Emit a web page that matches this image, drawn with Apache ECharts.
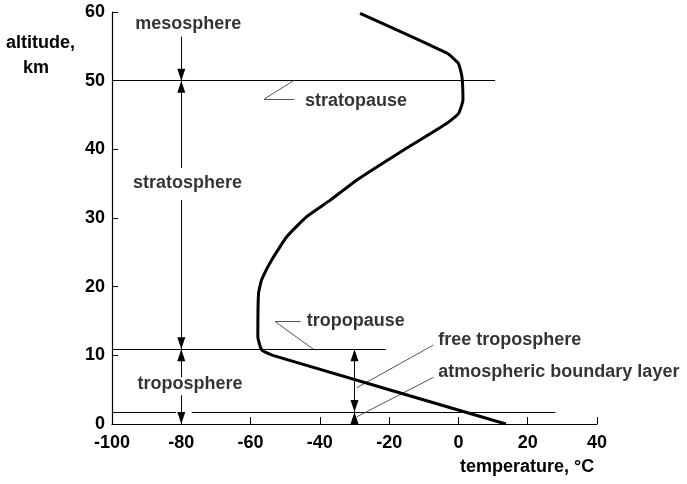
<!DOCTYPE html>
<html>
<head>
<meta charset="utf-8">
<script src="https://cdn.jsdelivr.net/npm/echarts@6/dist/echarts.min.js"></script>
<style>
html, body { margin: 0; padding: 0; background: #fff; }
#main { width: 687px; height: 484px; }
</style>
</head>
<body>
<div id="main"></div>
<script>
// temperature profile of the atmosphere (degC against km)
const profileTemp = [13.7, -53.6, -56.8, -57.9, -57.7, -56.8, -53.9, -49.5, -43.8, -37, -29.4, -15.8, -3.3, 0, 1.3, 1, 0, -3.3, -28.4]
const profileAlt = [0, 10, 10.8, 12.7, 19, 21, 23.9, 27.3, 30.2, 32.6, 35.5, 39.9, 43.8, 45.2, 47.2, 50.6, 52.5, 54, 59.8]

// layer boundaries: [tempFrom, alt, tempTo]
const boundaries = [[-100, 50, 10.6], [-100, 10.9, -21], [-100, 1.75, -81.5], [-77, 1.75, 28]]

// arrows: [temp, altFrom, altTo, headAtFrom, headAtTo]
const arrows = [
    [-80, 56.4, 50, 0, 1],
    [-80, 50, 37.3, 1, 0],
    [-80, 32.6, 10.9, 0, 1],
    [-80, 10.9, 6.8, 1, 0],
    [-80, 4.2, 0, 0, 1],
    [-30, 10.9, 1.75, 1, 1],
    [-30, 0, 1.75, 0, 1]
]

// pointer lines to the notes
const leaders = [
    [[-56.1, 47.3], [-47.4, 47.3]], [[-56.1, 47.3], [-47.6, 50]],
    [[-52.9, 14.9], [-45.5, 14.9]], [[-52.9, 14.9], [-41.9, 10.9]],
    [[-29.3, 5.3], [-7.2, 11.5]],
    [[-29.3, 1.06], [-7.2, 6.8]]
]

const layerNames = ['mesosphere', 'stratosphere', 'troposphere']
const layerPos = [[-78, 58.3], [-78.2, 35.05], [-77.5, 5.78]]
const noteNames = ['stratopause', 'tropopause', 'free troposphere', 'atmospheric boundary layer']
const notePos = [[-44.3, 47.1], [-43.8, 15.0], [-5.8, 12.2], [-5.8, 7.5]]

const font = "'Liberation Sans', Arial, sans-serif"
const txt = { color: '#000', fontFamily: font, fontWeight: 'bold', fontSize: 18 }

const myChart = echarts.init(document.getElementById('main'))

const head = { symbol: 'triangle', symbolSize: [8, 12], symbolOffset: [0, 6] }
const arrowData = arrows.map(a => [
    Object.assign({ coord: [a[0], a[1]] }, a[3] ? head : { symbol: 'none' }),
    Object.assign({ coord: [a[0], a[2]] }, a[4] ? head : { symbol: 'none' })
])

const option = {
    animation: false,
    grid: { left: 112, right: 90, top: 12, bottom: 60 },
    xAxis: {
        type: 'value',
        min: -100,
        max: 40,
        interval: 20,
        splitLine: { show: false },
        axisLine: { lineStyle: { color: '#000', width: 1.2 } },
        axisTick: { inside: true, length: 7, lineStyle: { color: '#000' } },
        axisLabel: Object.assign({ margin: 10 }, txt)
    },
    yAxis: {
        type: 'value',
        min: 0,
        max: 60,
        interval: 10,
        splitLine: { show: false },
        axisLine: { show: true, onZero: false, lineStyle: { color: '#000', width: 1.2 } },
        axisTick: { show: true, inside: true, length: 6, lineStyle: { color: '#000' } },
        axisLabel: Object.assign({ margin: 7 }, txt)
    },
    graphic: [
        { type: 'text', left: 6, top: 34, style: { text: 'altitude,', font: 'bold 18px ' + font, fill: '#000' } },
        { type: 'text', left: 23, top: 59, style: { text: 'km', font: 'bold 18px ' + font, fill: '#000' } },
        { type: 'text', left: 460, top: 458, style: { text: 'temperature, °C', font: 'bold 18px ' + font, fill: '#000' } }
    ],
    series: [
        {
            name: 'temperature',
            type: 'line',
            data: profileTemp.map((t, i) => [t, profileAlt[i]]),
            smooth: 0.15,
            showSymbol: false,
            lineStyle: { color: '#000', width: 3 },
            z: 5
        },
        {
            name: 'boundaries',
            type: 'line',
            data: [],
            markLine: {
                silent: true,
                symbol: ['none', 'none'],
                label: { show: false },
                lineStyle: { color: '#000', width: 1, type: 'solid' },
                data: boundaries.map(b => [{ coord: [b[0], b[1]] }, { coord: [b[2], b[1]] }])
            }
        },
        {
            name: 'arrows',
            type: 'line',
            data: [],
            markLine: {
                silent: true,
                symbol: ['none', 'none'],
                label: { show: false },
                lineStyle: { color: '#000', width: 1, type: 'solid' },
                itemStyle: { color: '#000' },
                data: arrowData
            }
        },
        {
            name: 'leaders',
            type: 'line',
            data: [],
            markLine: {
                silent: true,
                symbol: ['none', 'none'],
                label: { show: false },
                lineStyle: { color: '#555', width: 1, type: 'solid' },
                data: leaders.map(l => [{ coord: l[0] }, { coord: l[1] }])
            }
        },
        {
            name: 'layers',
            type: 'scatter',
            symbolSize: 0,
            silent: true,
            label: Object.assign({ show: true, position: 'inside', textBorderWidth: 0, formatter: p => p.name }, txt),
            data: layerNames.map((n, i) => ({ name: n, value: layerPos[i] }))
        },
        {
            name: 'notes',
            type: 'scatter',
            symbolSize: 0,
            silent: true,
            label: Object.assign({ show: true, position: 'right', distance: 0, textBorderWidth: 0, formatter: p => p.name }, txt),
            data: noteNames.map((n, i) => ({ name: n, value: notePos[i] }))
        }
    ]
}

myChart.setOption(option)
</script>
</body>
</html>
